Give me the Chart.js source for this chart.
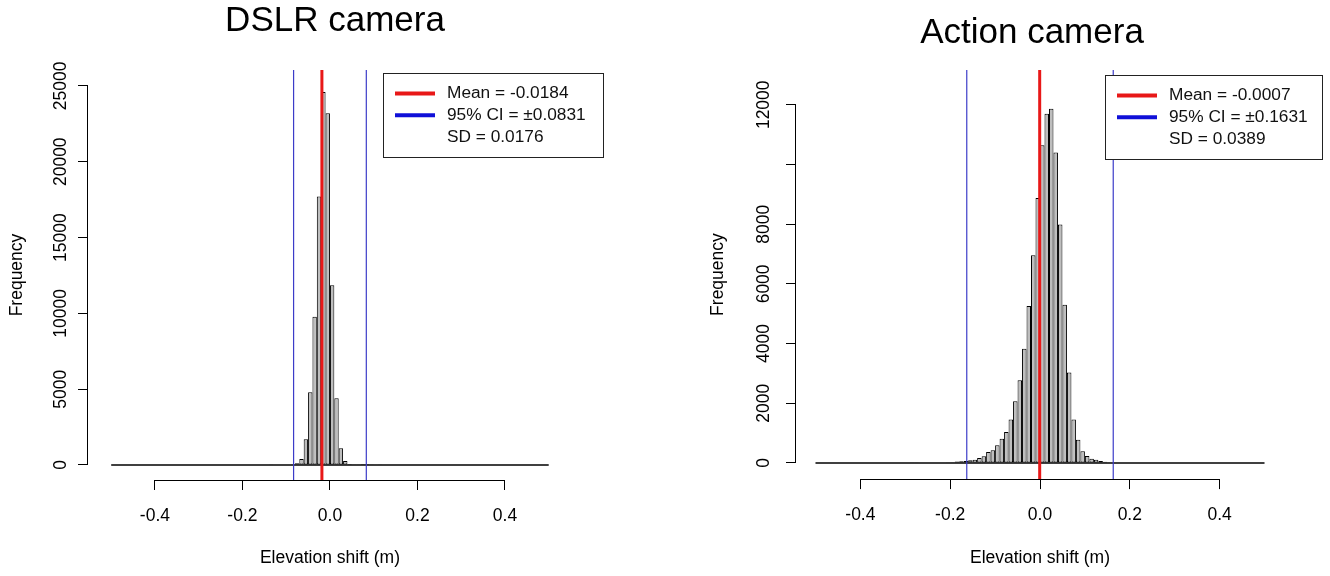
<!DOCTYPE html>
<html>
<head>
<meta charset="utf-8">
<title>Elevation shift histograms</title>
<script src="https://cdn.jsdelivr.net/npm/chart.js@4.4.1/dist/chart.umd.min.js"></script>
<style>
  html, body { margin: 0; padding: 0; background: #fff; }
  #panels { position: relative; width: 1330px; height: 576px; }
  #panels canvas { position: absolute; top: 0; }
</style>
</head>
<body>
<div id="panels">
  <canvas id="dslr" width="665" height="576" style="left:0"></canvas>
  <canvas id="action" width="665" height="576" style="left:665px"></canvas>
</div>
<script>
// histogram bins are 0.01 m wide, covering -0.5 .. 0.5
var binWidth = 0.01;
var binRange = [-0.5, 0.5];
var xTicks = [-0.4, -0.2, 0, 0.2, 0.4];

// DSLR camera, counts per bin starting with the bin at -0.14
var dslrFirstBin = -0.14;
var dslrCounts = [20, 25, 30, 30, 35, 45, 120, 400, 1700, 4800, 9780, 17700, 24600,
                  23200, 11850, 4400, 1100, 260, 60, 15, 8, 6, 5, 12, 0, 12];
var dslrStats = [-0.0184, 0.0831, 0.0176];   // mean, 95% CI half width, SD
var dslrYTicks = [0, 5000, 10000, 15000, 20000, 25000];
var dslrYLabels = ['0', '5000', '10000', '15000', '20000', '25000'];
var dslrYLim = [-990, 26050];
var dslrXLim = [-0.553, 0.553];

// Action camera, counts per bin starting with the bin at -0.32
var actionFirstBin = -0.32;
var actionCounts = [15, 15, 0, 10, 10, 12, 12, 15, 15, 18, 20, 22, 25, 50, 55, 65, 90, 110,
                    170, 225, 370, 425, 590, 815, 1040, 1460, 2070, 2770, 3830, 5260, 6960,
                    8880, 10640, 11700, 11870, 10400, 7990, 5300, 3030, 1460, 780, 390, 235,
                    145, 110, 67, 40, 25, 20, 15, 12, 0, 0, 0, 15, 15];
var actionStats = [-0.0007, 0.1631, 0.0389];
var actionYTicks = [0, 2000, 4000, 6000, 8000, 10000, 12000];
var actionYLabels = ['0', '2000', '4000', '6000', '8000', '', '12000'];
var actionYLim = [-540, 13165];
var actionXLim = [-0.5434, 0.5434];

var fontFamily = "'Liberation Sans', Arial, sans-serif";
Chart.defaults.font.family = fontFamily;
Chart.defaults.color = '#000';

// R-style axes: the axis line only runs between the outer ticks
var axisLines = {
  id: 'axisLines',
  afterDraw: function (chart) {
    var ctx = chart.ctx, xs = chart.scales.x, ys = chart.scales.y;
    var xt = xs.ticks, yt = ys.ticks;
    var y0 = Math.round(xs.top) + 0.5;
    var x0 = Math.round(ys.right) - 0.5;
    ctx.save();
    ctx.strokeStyle = '#000';
    ctx.lineWidth = 1;
    ctx.beginPath();
    ctx.moveTo(xs.getPixelForValue(xt[0].value), y0);
    ctx.lineTo(xs.getPixelForValue(xt[xt.length - 1].value), y0);
    ctx.moveTo(x0, ys.getPixelForValue(yt[0].value));
    ctx.lineTo(x0, ys.getPixelForValue(yt[yt.length - 1].value));
    ctx.stroke();
    ctx.restore();
  }
};

// big panel heading
function panelTitle(text, pos) {
  return {
    id: 'panelTitle',
    afterDraw: function (chart) {
      var ctx = chart.ctx;
      ctx.save();
      ctx.font = '35px ' + fontFamily;
      ctx.fillStyle = '#000';
      ctx.textAlign = 'center';
      ctx.textBaseline = 'middle';
      ctx.fillText(text, pos.x, pos.y);
      ctx.restore();
    }
  };
}

// boxed legend with mean / CI / SD rows
function statsLegend(box, stats) {
  var rows = [
    { text: 'Mean = ' + stats[0].toFixed(4), color: '#e81818' },
    { text: '95% CI = \u00b1' + stats[1].toFixed(4), color: '#1010d8' },
    { text: 'SD = ' + stats[2].toFixed(4), color: null }
  ];
  return {
    id: 'statsLegend',
    afterDraw: function (chart) {
      var ctx = chart.ctx;
      ctx.save();
      ctx.fillStyle = '#fff';
      ctx.fillRect(box.left, box.top, box.width, box.height);
      ctx.strokeStyle = '#222';
      ctx.lineWidth = 1;
      ctx.strokeRect(box.left + 0.5, box.top + 0.5, box.width, box.height);
      ctx.font = '17.3px ' + fontFamily;
      ctx.textBaseline = 'middle';
      ctx.textAlign = 'left';
      rows.forEach(function (r, i) {
        var y = box.top + 20.5 + i * 21.75;
        if (r.color) {
          ctx.strokeStyle = r.color;
          ctx.lineWidth = 4;
          ctx.beginPath();
          ctx.moveTo(box.left + 12, y);
          ctx.lineTo(box.left + 52, y);
          ctx.stroke();
        }
        ctx.fillStyle = '#111';
        ctx.fillText(r.text, box.left + 64, y);
      });
      ctx.restore();
    }
  };
}

function drawHistogram(id, title, counts, firstBin, stats, yTicks, yLabels, yLim, xLim, lay) {
  var bars = counts.map(function (c, i) {
    return { x: firstBin + (i + 0.5) * binWidth, y: c };
  });
  var vline = function (v) {
    return [{ x: v, y: yLim[0] }, { x: v, y: yLim[1] }];
  };
  var refLine = function (data, color, width) {
    return { type: 'line', data: data, borderColor: color, borderWidth: width,
             pointRadius: 0, tension: 0 };
  };

  new Chart(document.getElementById(id), {
    type: 'bar',
    data: {
      datasets: [
        refLine(vline(stats[0]), '#e81818', 3),
        refLine(vline(-stats[1]), '#3c3cc8', 1.2),
        refLine(vline(stats[1]), '#3c3cc8', 1.2),
        {
          data: bars,
          backgroundColor: '#bebebe',
          borderColor: '#000',
          borderWidth: 1,
          borderSkipped: false,
          barPercentage: 1,
          categoryPercentage: 1,
          inflateAmount: 0
        },
        // empty bins show up as a flat line along zero
        refLine([{ x: binRange[0], y: 0 }, { x: binRange[1], y: 0 }], '#000', 1.5)
      ]
    },
    options: {
      responsive: false,
      animation: false,
      layout: { padding: { left: 0, right: lay.padRight, top: lay.plotTop, bottom: 0 } },
      plugins: {
        legend: { display: false },
        tooltip: { enabled: false },
        title: { display: false }
      },
      scales: {
        x: {
          type: 'linear',
          min: xLim[0],
          max: xLim[1],
          offset: false,
          afterBuildTicks: function (s) {
            s.ticks = xTicks.map(function (v) { return { value: v }; });
          },
          afterFit: function (s) { s.height = 576 - lay.plotBottom; },
          grid: { display: true, offset: false, drawOnChartArea: false, drawTicks: true,
                  tickLength: 10, color: '#000', lineWidth: 1 },
          border: { display: false },
          ticks: {
            autoSkip: false, maxRotation: 0, minRotation: 0, padding: 15.5,
            font: { size: 17.5 },
            callback: function (v) { return Number(v).toFixed(1); }
          },
          title: { display: true, text: 'Elevation shift (m)', font: { size: 17.5 },
                   padding: { top: 0, bottom: 7.8 } }
        },
        y: {
          type: 'linear',
          min: yLim[0],
          max: yLim[1],
          afterBuildTicks: function (s) {
            s.ticks = yTicks.map(function (v) { return { value: v }; });
          },
          afterFit: function (s) { s.width = lay.plotLeft; },
          grid: { display: true, drawOnChartArea: false, drawTicks: true,
                  tickLength: 10, color: '#000', lineWidth: 1 },
          border: { display: false },
          ticks: {
            autoSkip: false, minRotation: 90, maxRotation: 90, crossAlign: 'center',
            padding: lay.yTickPad, font: { size: 17.5 },
            callback: function (v, i) { return yLabels[i]; }
          },
          title: { display: true, text: 'Frequency', font: { size: 17.5 },
                   padding: { top: lay.yTitlePad, bottom: 0 } }
        }
      }
    },
    plugins: [axisLines, statsLegend(lay.legend, stats), panelTitle(title, lay.title)]
  });
}

drawHistogram('dslr', 'DSLR camera', dslrCounts, dslrFirstBin, dslrStats,
  dslrYTicks, dslrYLabels, dslrYLim, dslrXLim,
  { plotLeft: 88, plotTop: 70, plotBottom: 480, padRight: 93.1,
    yTitlePad: 6.8, yTickPad: -7.5, title: { x: 335, y: 21 },
    legend: { left: 383, top: 73, width: 220, height: 84 } });

drawHistogram('action', 'Action camera', actionCounts, actionFirstBin, actionStats,
  actionYTicks, actionYLabels, actionYLim, actionXLim,
  { plotLeft: 131, plotTop: 70, plotBottom: 479.1, padRight: 46,
    yTitlePad: 42.8, yTickPad: -2.5, title: { x: 367, y: 33 },
    legend: { left: 440, top: 75, width: 217, height: 84 } });
</script>
</body>
</html>
